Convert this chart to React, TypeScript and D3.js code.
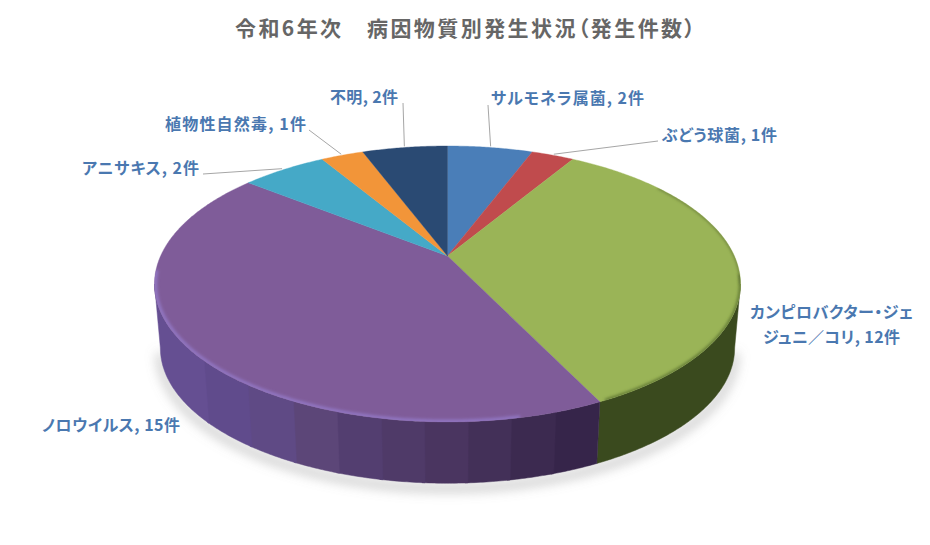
import * as d3 from "d3";

const title = "令和6年次　病因物質別発生状況（発生件数）";
const categories = ["サルモネラ属菌", "ぶどう球菌", "カンピロバクター・ジェジュニ／コリ", "ノロウイルス", "アニサキス", "植物性自然毒", "不明"];
const counts = [2, 1, 12, 15, 2, 1, 2];
const colors = ["#4a7eb8", "#c04b4d", "#9ab457", "#7f5c99", "#45a9c7", "#f29539", "#2a4a73"];

// label placement: text start, baseline, fitted width, leader elbow (null = no leader)
const labelLayout = [
  { lines: null, x: 491, y: 104, w: 153, elbow: [488, 105] },
  { lines: null, x: 662, y: 141, w: 115, elbow: [658, 141] },
  { lines: ["カンピロバクター・ジェ", "ジュニ／コリ, 12件"], x: 750, y: 318, w: 163, elbow: null },
  { lines: null, x: 42, y: 431, w: 138, elbow: null },
  { lines: null, x: 82, y: 174, w: 117, elbow: [203, 174] },
  { lines: null, x: 165, y: 130, w: 141, elbow: [309, 130] },
  { lines: null, x: 330, y: 103, w: 68, elbow: [403, 103] },
];

// projective view of the pie disc: apex sits above the middle of the ellipse
const apexX = 447.5;
const apexY = 256;
const persp = 0.2029;
const scaleX = 286.9;
const scaleY = 132.3;
const ellipseMidY = 284;
const depth = 64;
const baseShrink = 0.98;

function rim(theta: number, r = 1): [number, number] {
  const u = Math.sin(theta) * r;
  const v = -Math.cos(theta) * r;
  const den = 1 - persp * v;
  return [apexX + (scaleX * u) / den, apexY + (scaleY * v) / den];
}

function base(p: [number, number]): [number, number] {
  return [apexX + (p[0] - apexX) * baseShrink, ellipseMidY + depth + (p[1] - ellipseMidY) * baseShrink];
}

const DEG = Math.PI / 180;
const arcPoints = (a0: number, a1: number, step = 0.5 * DEG, r = 1) => {
  const n = Math.max(1, Math.ceil((a1 - a0) / step));
  return d3.range(n + 1).map((i) => rim(a0 + ((a1 - a0) * i) / n, r));
};

const line = d3.line<[number, number]>();
const arcs = d3.pie<number>().sort(null)(counts);

const sideStart = Math.acos(-persp);
const sideEnd = 2 * Math.PI - sideStart;
const greenEnd = arcs[2].endAngle;

const purpleShade = d3
  .scaleQuantize<string>()
  .domain([160, 597])
  .range(["#654f92", "#604b8c", "#5f4a85", "#5c4678", "#533e70", "#4f3a68", "#4a3560", "#433058", "#3c2a50", "#36254a"]);

// one polygon per colour band so the wall has no seams
function wallBands(a0: number, a1: number, fill: (x: number) => string) {
  const pts = arcPoints(a0, a1, 0.5 * DEG);
  const bands: { color: string; pts: [number, number][] }[] = [];
  pts.forEach((p, i) => {
    const c = fill(p[0]);
    const last = bands[bands.length - 1];
    if (last && last.color === c) last.pts.push(p);
    else {
      if (last) last.pts.push(p);
      bands.push({ color: c, pts: i > 0 ? [pts[i - 1], p] : [p] });
    }
  });
  return bands.map((b, i) => (
    <path key={i} d={line([...b.pts, ...b.pts.map(base).reverse()])! + "Z"} fill={b.color} stroke={b.color} strokeWidth={0.5} />
  ));
}

export default function App() {
  const silhouette = arcPoints(sideStart, sideEnd, 1 * DEG).map(base);
  const labelColor = "#4a78b0";
  const font = "'Noto Sans CJK JP', 'Noto Sans', sans-serif";
  const disc = line(arcPoints(0, 2 * Math.PI))! + "Z";

  return (
    <svg width={930} height={545} viewBox="0 0 930 545" style={{ position: "absolute", left: 0, top: 0, background: "#fff" }}>
      <defs>
        <filter id="soft" filterUnits="userSpaceOnUse" x={0} y={0} width={930} height={545}>
          <feGaussianBlur stdDeviation={6} />
        </filter>
        <filter id="bevel" filterUnits="userSpaceOnUse" x={0} y={0} width={930} height={545}>
          <feGaussianBlur stdDeviation={1.6} />
        </filter>
        <clipPath id="discClip">
          <path d={disc} />
        </clipPath>
      </defs>

      <text x={465} y={36} textAnchor="middle" fontFamily={font} fontSize={21} fontWeight={700} fill="#666666" textLength={460} style={{ fontFeatureSettings: "'palt'" }}>
        {title}
      </text>

      {/* drop shadow under the disc */}
      <path d={line(silhouette.map(([x, y]) => [x, y + 5] as [number, number]))!} fill="none" stroke="#8c8c8c" strokeOpacity={0.6} strokeWidth={6} filter="url(#soft)" />

      {/* side wall */}
      <g>{wallBands(sideStart, greenEnd, () => "#3a4a1e")}</g>
      <g>{wallBands(greenEnd, sideEnd, (x) => purpleShade(x))}</g>

      {/* top face */}
      {arcs.map((a, i) => (
        <path key={i} d={line([[apexX, apexY], ...arcPoints(a.startAngle, a.endAngle)])! + "Z"} fill={colors[i]} stroke={colors[i]} strokeWidth={0.4} />
      ))}

      {/* soft rim bevel, kept inside the disc */}
      <g clipPath="url(#discClip)">
        <path d={line(arcPoints(greenEnd + 14 * DEG, 264 * DEG, 0.5 * DEG, 0.998))!} fill="none" stroke="#9176c2" strokeWidth={4} filter="url(#bevel)" />
        <path d={line(arcPoints(sideStart - 4 * DEG, greenEnd - 1 * DEG, 0.5 * DEG, 1))!} fill="none" stroke="#5f7633" strokeWidth={3} filter="url(#bevel)" />
        <path d={line(arcPoints(55 * DEG, sideStart, 0.5 * DEG, 1))!} fill="none" stroke="#5c6e30" strokeWidth={1.6} filter="url(#bevel)" />
      </g>

      {/* labels and leaders */}
      {arcs.map((a, i) => {
        const l = labelLayout[i];
        const text = `${categories[i]}, ${counts[i]}件`;
        const mid = (a.startAngle + a.endAngle) / 2;
        return (
          <g key={i}>
            {l.elbow && (
              <path d={line([l.elbow as [number, number], rim(mid, 1.012)])!} fill="none" stroke="#a6a6a6" strokeWidth={1} />
            )}
            {l.lines ? (
              l.lines.map((t, k) => (
                <text key={k} x={l.x + l.w / 2} y={l.y + k * 25} textAnchor="middle" fontFamily={font} fontSize={16} fontWeight={700} fill={labelColor} textLength={k === 0 ? 163 : 137} style={{ fontFeatureSettings: "'palt'" }}>
                  {t}
                </text>
              ))
            ) : (
              <text x={l.x} y={l.y} fontFamily={font} fontSize={16} fontWeight={700} fill={labelColor} textLength={l.w} style={{ fontFeatureSettings: "'palt'" }}>
                {text}
              </text>
            )}
          </g>
        );
      })}
    </svg>
  );
}
